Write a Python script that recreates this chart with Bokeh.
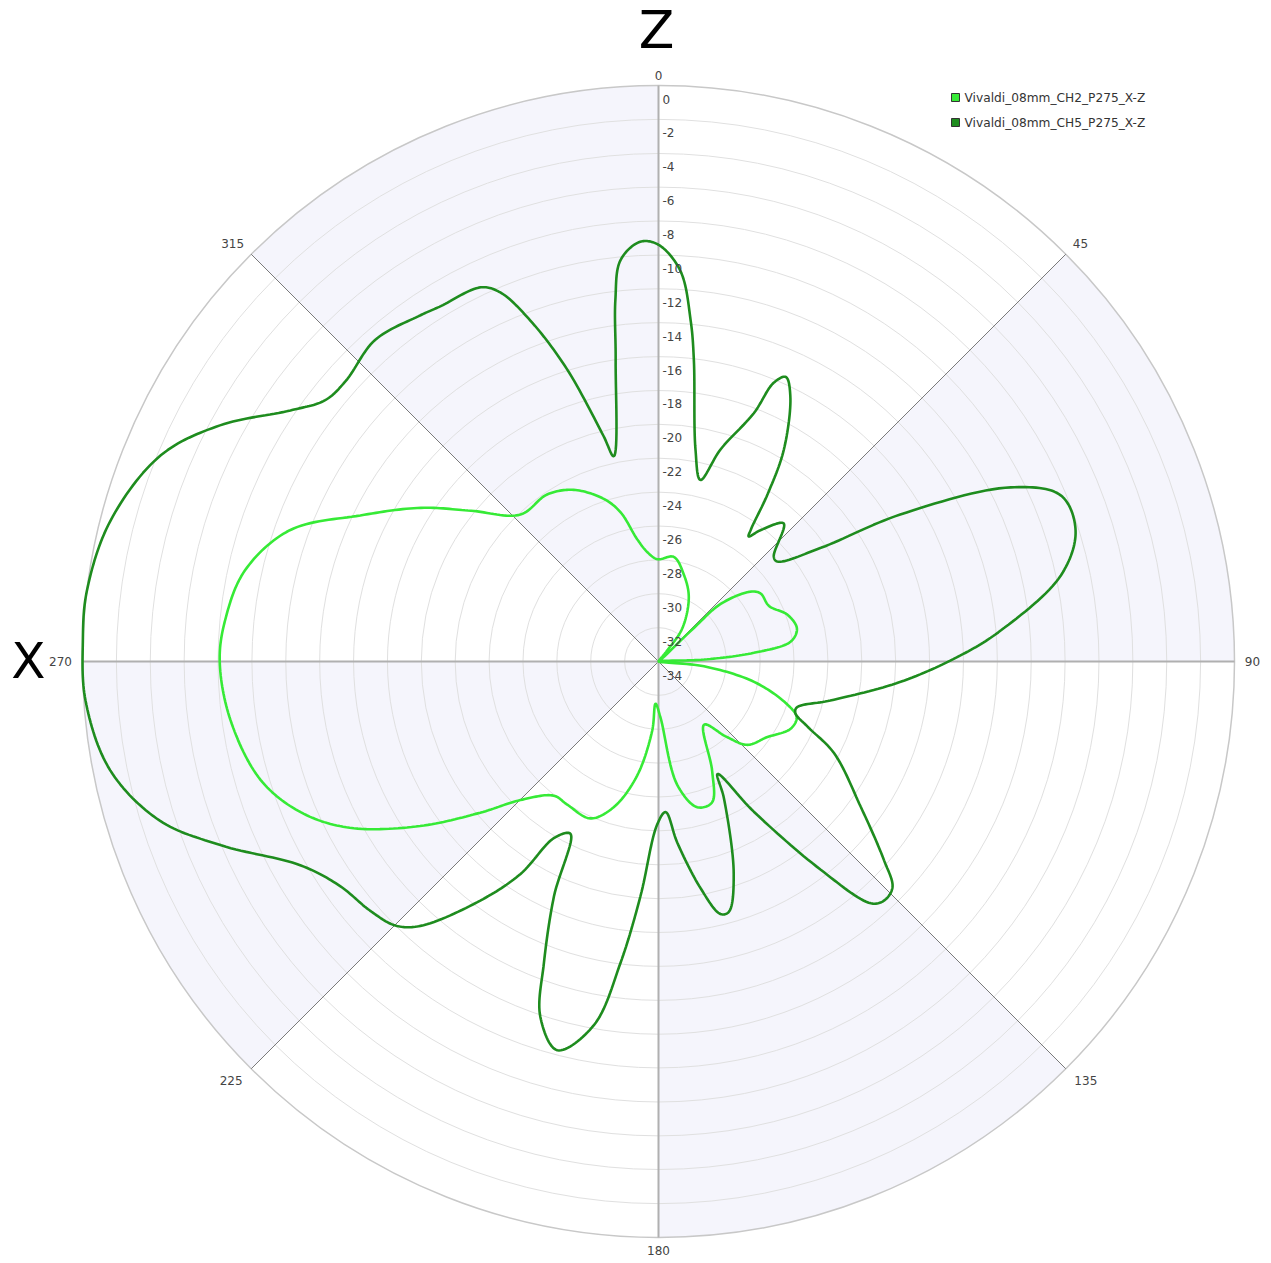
import numpy as np
from bokeh.plotting import figure
from bokeh.models import Range1d
from bokeh.embed import file_html
from bokeh.resources import INLINE
from bokeh.core.properties import value

# ---------------- data (angle in degrees clockwise from Z/top, gain in dB) -------------
series_names = ["Vivaldi_08mm_CH2_P275_X-Z", "Vivaldi_08mm_CH5_P275_X-Z"]
series_colors = ["#36EA36", "#1E8C1E"]

ch2_angle = [8.3, 16.2, 25.2, 35.7, 38.3, 42, 46.5, 47.2, 52.7, 56.3,
             63.3, 70.1, 76.6, 81.4, 84.8, 87.5, 91, 96, 102.1, 108.4,
             112, 117, 125, 133.1, 137.9, 144.2, 153.9, 159.2, 165.1, 171.4,
             178, 184, 185.2, 190.6, 197.1, 203.5, 212.5, 218, 224.9, 229.7,
             235.4, 241.7, 247.1, 253.4, 262.2, 270, 275.4, 282.4, 289.6, 296.1,
             302.9, 308.8, 316.8, 326.3, 333.7, 341.4, 345.7, 350.1, 354.1, 359.3]
ch2_db = [-27.76, -28.65, -29.8, -31.6, -33.2, -34, -31.1, -29.0, -27.2, -26.76,
          -26.7, -25.9, -25.6, -26.1, -28.35, -31.3, -34, -31.3, -28.2, -26.0,
          -25.2, -25.25, -26.2, -26.8, -28.0, -29.4, -26.8, -25.1, -25.1, -26.65,
          -30.7, -31.5, -29.9, -27.15, -25.0, -23.9, -23.98, -23.95, -22.45, -20.2,
          -16.9, -13.3, -11.1, -9.5, -8.5, -8.1, -8.3, -9.0, -10.9, -14.4,
          -17.3, -19.8, -22.1, -22.15, -22.7, -23.87, -24.9, -26.67, -27.5, -27.96]

ch5_angle = [0, 3.2, 5.4, 6.7, 9.9, 13.0, 16.3, 21.0, 22.45, 24.1,
             26.4, 30.6, 33.1, 35.0, 35.8, 37.8, 42.2, 47.7, 49.9, 55.0,
             58.7, 63.7, 67.6, 72.6, 77.9, 84.8, 88.9, 94.8, 102.8, 108.4,
             110.7, 113.6, 117.6, 125.7, 131.4, 134.0, 136.7, 138.7, 142.1, 147.6,
             152.3, 154.4, 160.5, 164.3, 166.2, 169.5, 174.1, 177.3, 180.5, 184.4,
             187.2, 190.1, 194.6, 198.4, 200.8, 204.0, 207.1, 210.6, 213.0, 216.7,
             222, 224.9, 229.2, 234.8, 240.3, 247.2, 252.3, 258.8, 266.1, 272,
             277, 284.4, 292.5, 298.3, 304.3, 308.1, 311.9, 318.6, 325.5, 328.5,
             334.6, 336.8, 339.4, 342.6, 346.3, 347.7, 351.9, 353.2, 354.6, 357.5]
ch5_db = [-9.4, -10.9, -13.8, -16.1, -21.3, -23.0, -20.96, -18.3, -16.2, -15.6,
          -16.5, -19.46, -22.2, -24.5, -24.9, -24.2, -23.0, -24.8, -24.84, -22.3,
          -17.3, -10.8, -8.3, -8.2, -9.7, -13.7, -16.2, -19.66, -23.6, -25.4,
          -25.36, -24.4, -22.3, -19.3, -16.25, -14.8, -14.6, -15.0, -18.44, -23.5,
          -26.5, -25.07, -20.7, -18.65, -18.65, -20.4, -23.26, -25.1, -24.36, -20.1,
          -16.05, -12.18, -10.29, -11.9, -14.95, -18.83, -22.58, -21.9, -19.05, -16.4,
          -13.0, -12.0, -11.5, -11.0, -9.7, -6.0, -3.1, -1.0, -0.1, 0.0,
          0.0, -0.6, -2.2, -4.6, -7.7, -9.0, -9.2, -8.7, -9.2, -9.4,
          -9.55, -10.3, -12.5, -15.9, -20.3, -21.6, -16.05, -12.5, -10.2, -9.2]

r_ticks = list(range(0, -36, -2))          # 0 ... -34
angle_ticks = [0, 45, 90, 135, 180, 225, 270, 315]
shaded_sectors = [315, 45, 135, 225]        # start angle of each shaded 45 deg sector
r_min, r_max = -34.0, 0.0

# ---------------- layout ----------------
W, H = 1263, 1260
CX, CY = 658, 661      # polar centre in figure pixels (from top-left)
R = 576.0              # outer radius in pixels (1 data unit = 1 px)
# angle-label offsets outside the outer ring (pixels: radial gap, extra horizontal shift)
ANGLE_LABEL_GAP = {0: 10, 45: 15, 90: 18, 135: 17, 180: 13, 225: 17, 270: 22, 315: 15}
ANGLE_LABEL_SHIFT = {0: 0, 45: 4, 90: 0, 135: 8, 180: 0, 225: -8, 270: 0, 315: -8}

p = figure(width=W, height=H,
           x_range=Range1d(-CX, W - CX), y_range=Range1d(-(H - CY), CY),
           output_backend="svg", toolbar_location=None,
           x_axis_location=None, y_axis_location=None, min_border=0)
p.grid.visible = False
p.outline_line_color = None
p.background_fill_color = "white"
p.border_fill_color = "white"


def radius(db):
    db = np.asarray(db, dtype=float)
    return np.clip((db - r_min) / (r_max - r_min), 0, None) * R


def to_xy(ang, db):
    a = np.radians(np.asarray(ang, dtype=float))
    r = radius(db)
    return r * np.sin(a), r * np.cos(a)


def smooth_closed(x, y, n=16, alpha=0.5):
    P = np.column_stack([x, y])
    N = len(P)
    out = []
    for i in range(N):
        p0, p1, p2, p3 = P[(i - 1) % N], P[i], P[(i + 1) % N], P[(i + 2) % N]

        def tj(ti, a, b):
            return ti + max(np.linalg.norm(b - a), 1e-3) ** alpha
        t0 = 0.0
        t1 = tj(t0, p0, p1)
        t2 = tj(t1, p1, p2)
        t3 = tj(t2, p2, p3)
        for t in np.linspace(t1, t2, n, endpoint=False):
            A1 = (t1 - t) / (t1 - t0) * p0 + (t - t0) / (t1 - t0) * p1
            A2 = (t2 - t) / (t2 - t1) * p1 + (t - t1) / (t2 - t1) * p2
            A3 = (t3 - t) / (t3 - t2) * p2 + (t - t2) / (t3 - t2) * p3
            B1 = (t2 - t) / (t2 - t0) * A1 + (t - t0) / (t2 - t0) * A2
            B2 = (t3 - t) / (t3 - t1) * A2 + (t - t1) / (t3 - t1) * A3
            C = (t2 - t) / (t2 - t1) * B1 + (t - t1) / (t2 - t1) * B2
            out.append(C)
    out.append(out[0])
    out = np.array(out)
    return out[:, 0], out[:, 1]


# shaded sectors
for s in shaded_sectors:
    p.wedge(x=0, y=0, radius=R,
            start_angle=np.radians(90 - (s + 45)), end_angle=np.radians(90 - s),
            fill_color="#F5F5FC", line_color=None)

# concentric grid circles
inner = [float(radius(t)) for t in r_ticks if t != r_max and t != r_min]
p.circle(x=[0] * len(inner), y=[0] * len(inner), radius=inner,
         fill_color=None, line_color="#E0E0E0", line_width=1)
p.circle(x=0, y=0, radius=R, fill_color=None, line_color="#C8C8C8", line_width=1.5)

# spokes
diag = [a for a in angle_ticks if a % 90 != 0]
main = [a for a in angle_ticks if a % 90 == 0]
p.segment(x0=0, y0=0, x1=[R * np.sin(np.radians(a)) for a in diag],
          y1=[R * np.cos(np.radians(a)) for a in diag], line_color="#7A7A7A", line_width=1)
p.segment(x0=0, y0=0, x1=[R * np.sin(np.radians(a)) for a in main],
          y1=[R * np.cos(np.radians(a)) for a in main], line_color="#B0B0B0", line_width=2)

# series
for ang, db, col in [(ch2_angle, ch2_db, series_colors[0]), (ch5_angle, ch5_db, series_colors[1])]:
    x, y = to_xy(ang, db)
    sx, sy = smooth_closed(x, y)
    p.line(sx, sy, line_color=col, line_width=2.6)

FONT = value("DejaVu Sans")

# radial tick labels along the 0-degree spoke
p.text(x=[4] * len(r_ticks), y=[float(radius(t)) - 9 for t in r_ticks],
       text=[str(t) for t in r_ticks], text_font=FONT, text_font_size="12px",
       text_color="#444444", text_align="left", text_baseline="top")

# angle labels
lab_x, lab_y, lab_t = [], [], []
for a in angle_ticks:
    rr = R + ANGLE_LABEL_GAP[a]
    lab_x.append(rr * np.sin(np.radians(a)) + ANGLE_LABEL_SHIFT[a])
    lab_y.append(rr * np.cos(np.radians(a)))
    lab_t.append(str(a))
p.text(x=lab_x, y=lab_y, text=lab_t, text_font=FONT, text_font_size="12px",
       text_color="#444444", text_align="center", text_baseline="middle")

# axis titles
p.text(x=[-2], y=[632], text=["Z"], text_font=FONT, text_font_size="52px",
       text_color="black", text_align="center", text_baseline="middle")
p.text(x=[-630], y=[1], text=["X"], text_font=FONT, text_font_size="50px",
       text_color="black", text_align="center", text_baseline="middle")

# legend
leg_x = 297
leg_y = [564, 539]
p.scatter(x=[leg_x] * 2, y=leg_y, marker="square", size=8,
          fill_color=series_colors, line_color="#333333", line_width=1)
p.text(x=[leg_x + 9] * 2, y=leg_y, text=series_names, text_font=FONT,
       text_font_size="12.2px", text_color="#333333", text_align="left",
       text_baseline="middle")

open("out.html", "w").write(file_html(p, INLINE))
